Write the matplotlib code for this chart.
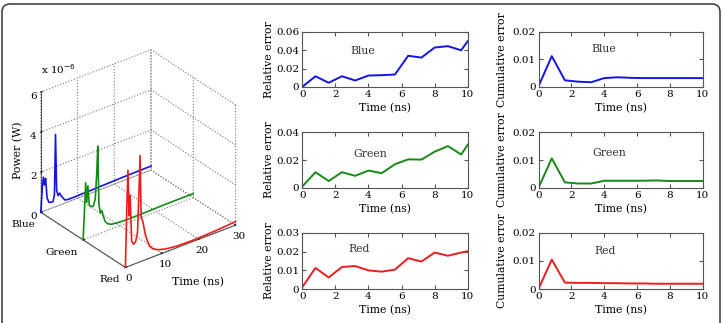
import numpy as np
import matplotlib
matplotlib.use("Agg")
import matplotlib.pyplot as plt
from matplotlib.patches import FancyBboxPatch

plt.rcParams['font.family'] = ['DejaVu Serif']

# error curves (time in ns)
t_err = [0, 0.8, 1.6, 2.4, 3.2, 4.0, 4.8, 5.6, 6.4, 7.2, 8.0, 8.8, 9.6, 10.0]
blue_rel = [0, 0.0116, 0.0045, 0.0116, 0.007, 0.0124, 0.0128, 0.0135, 0.034, 0.032, 0.043, 0.0445, 0.040, 0.050]
green_rel = [0.001, 0.0113, 0.005, 0.0113, 0.0087, 0.0125, 0.0106, 0.017, 0.0205, 0.0203, 0.026, 0.030, 0.024, 0.031]
red_rel = [0.001, 0.0113, 0.0062, 0.0118, 0.0123, 0.0100, 0.0093, 0.0104, 0.0165, 0.0147, 0.0195, 0.0178, 0.0195, 0.0202]
blue_cum = [0.0003, 0.0112, 0.0024, 0.0019, 0.0017, 0.0032, 0.0035, 0.0033, 0.0032, 0.0032, 0.0032, 0.0032, 0.0032, 0.0032]
green_cum = [0.0002, 0.0106, 0.0020, 0.0016, 0.0016, 0.0026, 0.0026, 0.0026, 0.0026, 0.0027, 0.0025, 0.0025, 0.0025, 0.0025]
red_cum = [0.0002, 0.0105, 0.0023, 0.0022, 0.0022, 0.0021, 0.0021, 0.0020, 0.0020, 0.0019, 0.0019, 0.0019, 0.0019, 0.0019]

# optical power (x 1e-6 W)
t_pow = [0, 0.4, 0.7, 1.0, 1.3, 1.7, 2.2, 2.8, 3.3, 3.7, 4.0, 4.3, 4.7, 5.1, 5.5, 6.0, 6.6, 7.5, 9, 11, 14, 18, 22, 26, 30]
blue_pow = [0, 1.2, 1.7, 1.3, 1.6, 0.6, 0.35, 0.3, 0.3, 0.6, 3.6, 0.8, 0.5, 0.6, 0.45, 0.3, 0.15, 0.12, 0.12, 0.13, 0.14, 0.16, 0.18, 0.19, 0.2]
green_pow = [0, 1.5, 2.8, 1.8, 2.6, 1.6, 1.5, 1.5, 1.8, 3.0, 4.4, 1.5, 1.0, 1.1, 0.8, 0.5, 0.35, 0.25, 0.2, 0.18, 0.17, 0.18, 0.2, 0.2, 0.2]
red_pow = [0, 3.0, 4.8, 2.5, 3.5, 1.2, 1.0, 1.1, 1.5, 3.5, 5.3, 2.2, 2.0, 1.6, 1.2, 0.9, 0.6, 0.4, 0.25, 0.15, 0.08, 0.06, 0.08, 0.12, 0.18]

names = ['Blue', 'Green', 'Red']
colors = ['#1414e6', '#168a16', '#ee1c1c']
rel = [blue_rel, green_rel, red_rel]
cum = [blue_cum, green_cum, red_cum]
pows = [blue_pow, green_pow, red_pow]
rel_max = [0.06, 0.04, 0.03]
rel_ticks = [[0, 0.02, 0.04, 0.06], [0, 0.02, 0.04], [0, 0.01, 0.02, 0.03]]
rel_lbl = [['0', '0.02', '0.04', '0.06'], ['0', '0.02', '0.04'], ['0', '0.01', '0.02', '0.03']]
rel_txt = [(0.29, 0.59), (0.31, 0.56), (0.28, 0.66)]
cum_txt = [(0.32, 0.64), (0.33, 0.57), (0.34, 0.63)]

fig = plt.figure(figsize=(7.23, 3.23), dpi=100)

# outer frame
frame = FancyBboxPatch((0.02, -0.3), 7.18, 3.49, boxstyle='round,pad=0,rounding_size=0.08',
                       transform=fig.dpi_scale_trans, fill=False, ec='#444444', lw=1.2)
fig.patches.append(frame)

tick_fs = 7.5
lab_fs = 7.8

# 3D power plot
ax3 = fig.add_axes([-0.004, 0.072, 0.38, 0.851], projection='3d')
ax3.set_proj_type('ortho')
ax3.view_init(elev=30, azim=-127.5)
ax3.set_box_aspect((1, 1, 1), zoom=0.85)
ypos = [3, 2, 1]
for i in range(3):
    ax3.plot(t_pow, [ypos[i]] * len(t_pow), pows[i], color=colors[i], lw=1.2)
ax3.set_xlim(0, 30)
ax3.set_ylim(1, 3)
ax3.set_zlim(0, 6)
ax3.set_xticks([0, 10, 20, 30])
ax3.set_yticks(ypos)
ax3.set_yticklabels(names, ha='right')
ax3.set_zticks([0, 2, 4, 6])
for a in (ax3.xaxis, ax3.yaxis, ax3.zaxis):
    a.set_pane_color((1, 1, 1, 0))
    a.pane.set_edgecolor('none')
    a._axinfo['grid'].update(color='#777777', linestyle=':', linewidth=0.8)
    a._axinfo['tick'].update(inward_factor=0.0, outward_factor=0.15)
    a.line.set_color('#555555')
    a.set_tick_params(labelsize=tick_fs)
ax3.xaxis.set_tick_params(pad=-4)
ax3.yaxis.set_tick_params(pad=-3)
ax3.zaxis.set_tick_params(pad=-4)
ax3.xaxis.set_rotate_label(False)
ax3.zaxis.set_rotate_label(False)
ax3.set_xlabel('Time (ns)', fontsize=lab_fs, labelpad=0)
ax3.set_zlabel('Power (W)', fontsize=lab_fs, rotation=90, labelpad=-9)
fig.text(0.057, 1 - 74 / 323, 'x 10$^{-6}$', fontsize=tick_fs)

# error panels
rows = [(0.731, 0.170), (0.418, 0.173), (0.105, 0.174)]
for i in range(3):
    b, h = rows[i]
    ax = fig.add_axes([0.418, b, 0.229, h])
    ax.plot(t_err, rel[i], color=colors[i], lw=1.4)
    ax.set_ylim(0, rel_max[i])
    ax.set_yticks(rel_ticks[i])
    ax.set_yticklabels(rel_lbl[i])
    ax.set_ylabel('Relative error', fontsize=lab_fs, labelpad=2)
    ax.text(rel_txt[i][0], rel_txt[i][1], names[i], transform=ax.transAxes, fontsize=lab_fs, color='#333333')

    ax2 = fig.add_axes([0.745, b, 0.227, h])
    ax2.plot(t_err, cum[i], color=colors[i], lw=1.4)
    ax2.set_ylim(0, 0.02)
    ax2.set_yticks([0, 0.01, 0.02])
    ax2.set_yticklabels(['0', '0.01', '0.02'])
    ax2.set_ylabel('Cumulative error', fontsize=lab_fs, labelpad=4)
    ax2.text(cum_txt[i][0], cum_txt[i][1], names[i], transform=ax2.transAxes, fontsize=lab_fs, color='#333333')

    for a in (ax, ax2):
        a.set_xlim(0, 10)
        a.set_xticks([0, 2, 4, 6, 8, 10])
        a.set_xlabel('Time (ns)', fontsize=lab_fs, labelpad=3)
        a.tick_params(direction='in', top=True, right=True, length=3, labelsize=tick_fs, pad=2, color='#555555')
        for s in a.spines.values():
            s.set_color('#555555')

fig.savefig('out.png', dpi=100)
